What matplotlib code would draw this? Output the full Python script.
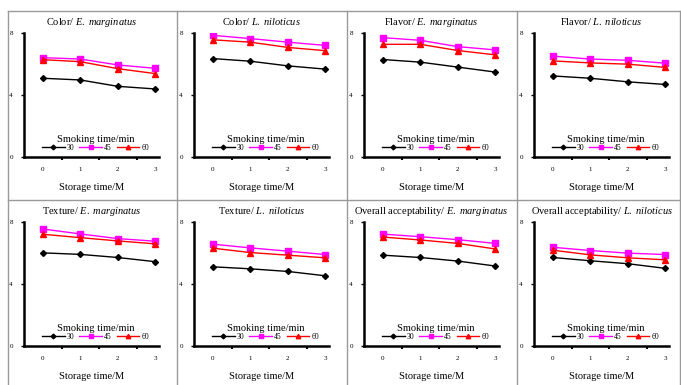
import matplotlib
matplotlib.use("Agg")
import matplotlib.pyplot as plt
from matplotlib.lines import Line2D

plt.rcParams.update({
    "font.family": "Liberation Serif",
    "mathtext.fontset": "custom",
    "mathtext.rm": "Liberation Serif",
    "mathtext.it": "Liberation Serif:italic",
})

storage = [0, 1, 2, 3]
smoking = ["30", "45", "60"]
attributes = ["Color", "Color", "Flavor", "Flavor",
              "Texture", "Texture", "Overall acceptability", "Overall acceptability"]
species = ["E.\\ marginatus", "L.\\ niloticus"] * 4

# scores per panel: [30 min, 45 min, 60 min]
color_em = [[5.08, 4.97, 4.56, 4.39], [6.41, 6.32, 5.94, 5.72], [6.28, 6.15, 5.70, 5.38]]
color_ln = [[6.35, 6.18, 5.88, 5.67], [7.85, 7.64, 7.41, 7.20], [7.56, 7.41, 7.07, 6.86]]
flavor_em = [[6.29, 6.12, 5.80, 5.48], [7.70, 7.53, 7.12, 6.91], [7.27, 7.27, 6.87, 6.59]]
flavor_ln = [[5.23, 5.08, 4.85, 4.68], [6.51, 6.32, 6.24, 6.05], [6.20, 6.07, 5.99, 5.78]]
texture_em = [[6.01, 5.91, 5.71, 5.44], [7.55, 7.23, 6.93, 6.76], [7.21, 6.99, 6.78, 6.59]]
texture_ln = [[5.11, 4.98, 4.81, 4.53], [6.57, 6.33, 6.12, 5.90], [6.31, 6.03, 5.86, 5.69]]
overall_em = [[5.86, 5.71, 5.48, 5.16], [7.22, 7.05, 6.86, 6.62], [7.03, 6.84, 6.62, 6.26]]
overall_ln = [[5.71, 5.50, 5.31, 5.01], [6.37, 6.16, 5.99, 5.90], [6.18, 5.88, 5.69, 5.56]]
panels = [color_em, color_ln, flavor_em, flavor_ln,
          texture_em, texture_ln, overall_em, overall_ln]

styles = [("black", "D", 3.0), ("#FF00FF", "s", 4.0), ("#FF0000", "^", 4.0)]

W, H = 681, 385
fig = plt.figure(figsize=(W / 100, H / 100), dpi=100)

# panel frames (grey boxes)
BORDER = "#9A9A9A"
for x in (8, 177, 347, 517, 680):
    fig.add_artist(Line2D([x / W, x / W], [0, 1 - 11 / H], color=BORDER, lw=1.0))
for y in (11, 200):
    fig.add_artist(Line2D([8 / W, 680 / W], [1 - y / H, 1 - y / H], color=BORDER, lw=1.0))

for i, data in enumerate(panels):
    r, c = divmod(i, 4)
    left = 24 + 170 * c
    top = 33 + 189 * r
    ax = fig.add_axes([left / W, 1 - (top + 124) / H, 135 / W, 124 / H])
    for (col, mk, ms), vals, lab in zip(styles, data, smoking):
        ax.plot(storage, vals, color=col, lw=1.0, marker=mk, ms=ms, label=lab)
    ax.set_xlim(-0.5, 3.1)
    ax.set_ylim(0, 8)
    ax.set_yticks([0, 4, 8])
    ax.tick_params(axis="y", length=2, width=1, labelsize=5, pad=6)
    ax.set_xticks([0.5, 1.5, 2.5])
    ax.set_xticklabels([])
    ax.tick_params(axis="x", which="major", length=2, width=1.5, direction="out")
    ax.set_xticks(storage, minor=True)
    ax.set_xticklabels([str(s) for s in storage], minor=True)
    ax.tick_params(axis="x", which="minor", length=0, labelsize=5, pad=7)
    for s in ("top", "right"):
        ax.spines[s].set_visible(False)
    for s in ("left", "bottom"):
        ax.spines[s].set_linewidth(1.8)
    ax.set_title(attributes[i] + "/ $\\mathit{" + species[i] + "}$", fontsize=7.5, pad=6)
    ax.set_xlabel("Storage time/M", fontsize=7.5, labelpad=8)
    leg = ax.legend(ncol=3, loc="lower center", bbox_to_anchor=(0.53, 0.01), frameon=False,
                    title="Smoking time/min", fontsize=5.5, title_fontsize=7.5,
                    handlelength=3.0, handletextpad=0.3, columnspacing=0.6,
                    borderpad=0, labelspacing=0, markerscale=0.8)
    leg._legend_box.sep = 0

fig.savefig("out.png", dpi=100, facecolor="white")
